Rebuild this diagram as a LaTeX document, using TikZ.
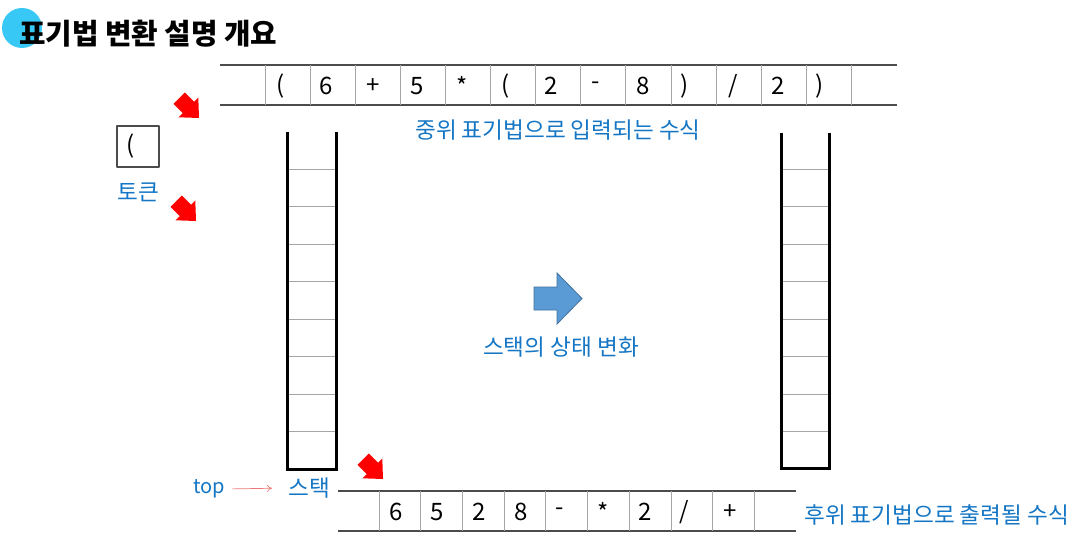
\documentclass[tikz,border=0pt]{standalone}
\usepackage{fontspec}
\setmainfont{Noto Sans CJK KR}
\usetikzlibrary{arrows.meta}
\definecolor{lblblue}{RGB}{20,118,196}
\definecolor{dotblue}{RGB}{56,200,245}
\definecolor{bigarrow}{RGB}{91,155,213}
\definecolor{bigedge}{RGB}{65,113,156}
\definecolor{pinkline}{RGB}{235,120,120}
\begin{document}
\begin{tikzpicture}[x=1pt,y=-1pt,line join=round,
	lbl/.style={text=lblblue,font=\fontsize{22.6}{22.6}\selectfont,inner sep=0pt},
	tok/.style={font=\fontsize{24}{24}\selectfont,inner sep=0pt},
	rim/.style={line width=1.5pt,black!70},
	sep/.style={line width=0.8pt,black!35},
	wall/.style={line width=3pt,line join=miter},
	bolt/.style={fill=red,draw=red,line width=0.4pt}]
	\useasboundingbox (0,0) rectangle (1081,545);
	\def\w{45.1}%top cell width
	\def\v{41.7}%bottom cell width
	\def\h{37.5}%stack cell height
	%========title
	\fill[dotblue] (22,28) circle (20);
	\node[anchor=west,inner sep=0pt,font=\fontsize{28.8}{28.8}\selectfont\bfseries] (title) at (19,34) {표기법 변환 설명 개요};
	%========infix tape
	\draw[rim] (220,65)--(897,65) (220,105)--(897,105);
	\foreach \i in {0,...,13} \draw[sep] (265+\i*\w,65)--(265+\i*\w,105);
	\path
	(281,86) node[tok] (in1) {(}
	(326,86) node[tok] (in2) {6}
	(373,86) node[tok] (in3) {+}
	(417,86) node[tok] (in4) {5}
	(462,86) node[tok] (in5) {*}
	(506,86) node[tok] (in6) {(}
	(551,86) node[tok] (in7) {2}
	(596,86) node[tok] (in8) {-}
	(643,86) node[tok] (in9) {8}
	(685,86) node[tok] (in10) {)}
	(733,86) node[tok] (in11) {/}
	(778,86) node[tok] (in12) {2}
	(820,86) node[tok] (in13) {)}
	;
	\node[lbl] (infix) at (558,130) {중위 표기법으로 입력되는 수식};
	%========token box
	\draw[rim] (117,126) rectangle (159,167);
	\node[tok] (tok) at (131,146) {(};
	\node[lbl] (toklbl) at (138,192) {토큰};
	%========stacks
	\draw[wall] (287,132)--(287,469)--(336,469)--(336,132);
	\foreach \i in {0,...,7} \draw[sep] (288.5,169+\i*\h)--(334.5,169+\i*\h);
	\draw[wall] (781,133)--(781,468)--(829,468)--(829,133);
	\foreach \i in {0,...,7} \draw[sep] (782.5,169+\i*\h)--(827.5,169+\i*\h);
	%========stack change
	\draw[bigedge,fill=bigarrow,line width=0.8pt,line join=miter]
	(534,287)--(557,287)--(557,273)--(582,298.5)--(557,324)--(557,310)--(534,310)--cycle;
	\node[lbl] (change) at (561,347) {스택의 상태 변화};
	%========red arrows
	\foreach \p in {(199,118),(196,221),(383,479)}
	\fill[red,shift={\p},rotate=-45] (0,0)--(-15,-14)--(-15,-8)--(-28,-8)--(-28,8)--(-15,8)--(-15,14)--cycle;
	%========top pointer
	\node[lbl,font=\fontsize{20}{20}\selectfont] (top) at (209,489) {top};
	\node[lbl] (stklbl) at (309,488) {스택};
	\draw[pinkline,line width=0.7pt,-{To[length=5pt,width=7pt]},shorten <=7pt,shorten >=16pt] (top.east)--(stklbl.west);
	%========postfix tape
	\draw[rim] (338,491)--(796,491) (338,531)--(796,531);
	\foreach \i in {0,...,9} \draw[sep] (379+\i*\v,491)--(379+\i*\v,531);
	\path
	(396,512) node[tok] (pf1) {6}
	(437,512) node[tok] (pf2) {5}
	(479,512) node[tok] (pf3) {2}
	(521,512) node[tok] (pf4) {8}
	(560,512) node[tok] (pf5) {-}
	(603,512) node[tok] (pf6) {*}
	(645,512) node[tok] (pf7) {2}
	(684,512) node[tok] (pf8) {/}
	(730,512) node[tok] (pf9) {+}
	;
	\node[lbl,anchor=west] (postfix) at (804,515) {후위 표기법으로 출력될 수식};
\end{tikzpicture}
\end{document}
